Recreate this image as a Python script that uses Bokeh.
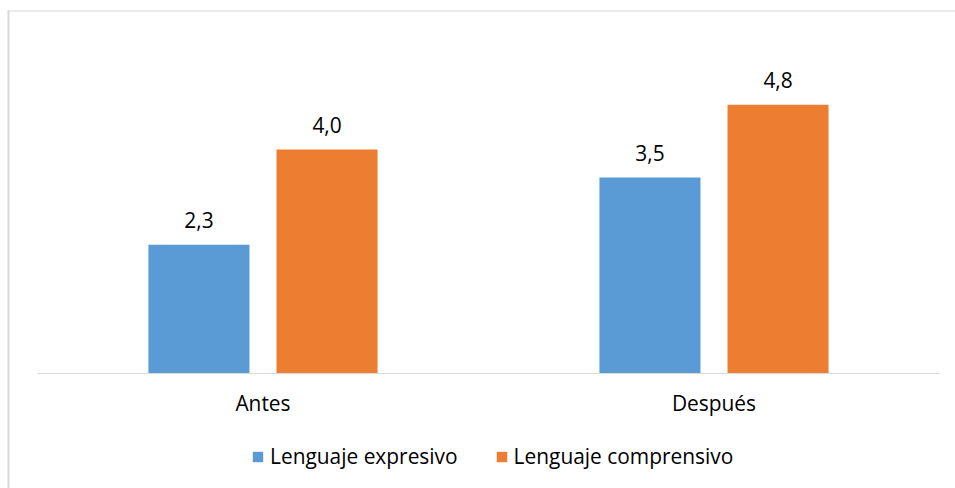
import numpy as np
from bokeh.plotting import figure
from bokeh.models import Range1d, Legend, LegendItem, BoxAnnotation, ColumnDataSource
from bokeh.core.properties import value
from bokeh.embed import file_html
from bokeh.resources import INLINE

# Data
groups = ["Antes", "Después"]
series = ["Lenguaje expresivo", "Lenguaje comprensivo"]
expresivo = [2.3, 3.5]
comprensivo = [4.0, 4.8]
colors = ["#5B9BD5", "#ED7D31"]

FONT = "Open Sans"
FS = "20.9px"
W, H = 955, 488

p = figure(width=W, height=H, output_backend="svg", toolbar_location=None,
           x_range=Range1d(-0.582, 1.5355), y_range=Range1d(-2.054, 6.661),
           x_axis_location=None, y_axis_location=None,
           min_border=0, min_border_left=0, min_border_right=0,
           min_border_top=0, min_border_bottom=0)
p.grid.visible = False
p.outline_line_color = None
p.background_fill_color = "white"
p.border_fill_color = "white"

idx = np.arange(len(groups))
off = 0.142
bw = 0.224

renderers = []
for vals, col, sgn in [(expresivo, colors[0], -1), (comprensivo, colors[1], 1)]:
    src = ColumnDataSource(dict(
        x=idx + sgn * off,
        top=vals,
        lab=[f"{v:.1f}".replace(".", ",") for v in vals],
    ))
    r = p.vbar(x="x", top="top", bottom=0, width=bw, source=src,
               fill_color=col, line_color=None)
    renderers.append(r)
    p.text(x="x", y="top", text="lab", source=src, text_align="center",
           text_baseline="middle", y_offset=-25,
           text_font=value(FONT), text_font_size=FS, text_color="#000000")

# category baseline spanning the category bands
p.segment(x0=[-0.5], x1=[len(groups) - 0.5], y0=[0], y1=[0],
          line_color="#d9d9d9", line_width=1)

# category labels under the baseline
p.text(x=idx, y=[0] * len(groups), text=groups, text_align="center",
       text_baseline="middle", y_offset=30,
       text_font=value(FONT), text_font_size=FS, text_color="#000000")

legend = Legend(items=[LegendItem(label=s, renderers=[r]) for s, r in zip(series, renderers)],
                orientation="horizontal", location=(251, 18),
                glyph_width=13, glyph_height=13, label_standoff=6, spacing=37,
                padding=0, margin=0, border_line_color=None,
                background_fill_alpha=0,
                label_text_font=FONT, label_text_font_size=FS,
                label_text_color="#000000")
p.add_layout(legend)

# chart area border (top and left edges)
p.add_layout(BoxAnnotation(left=7, right=W, top=10, bottom=11,
                           left_units="canvas", right_units="canvas",
                           top_units="canvas", bottom_units="canvas",
                           fill_color="#d9d9d9", fill_alpha=1, line_color=None))
p.add_layout(BoxAnnotation(left=7, right=9, top=10, bottom=H,
                           left_units="canvas", right_units="canvas",
                           top_units="canvas", bottom_units="canvas",
                           fill_color="#d9d9d9", fill_alpha=1, line_color=None))

open("out.html", "w").write(file_html(p, INLINE))
